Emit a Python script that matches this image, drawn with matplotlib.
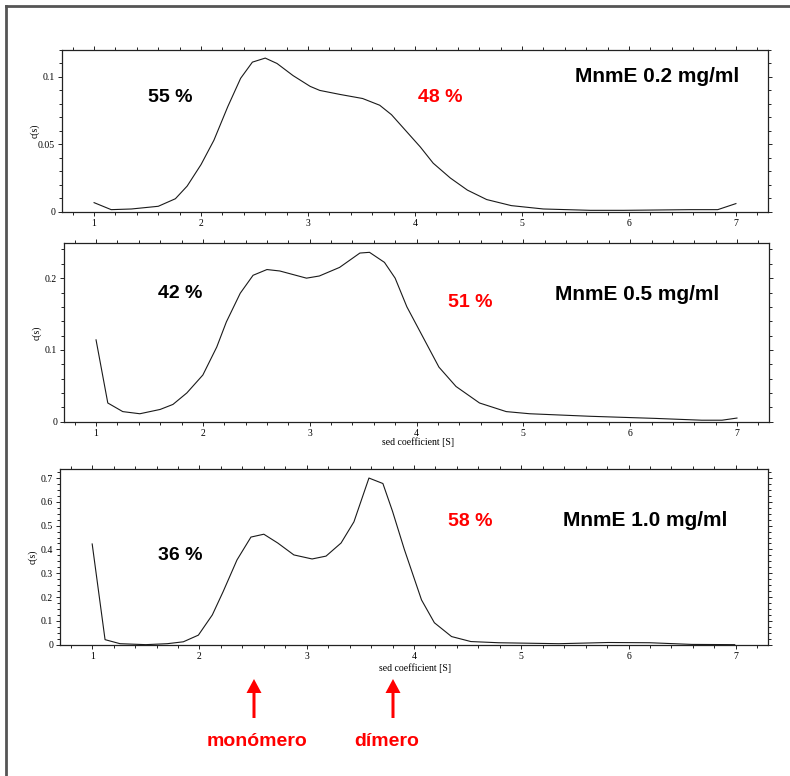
import matplotlib
matplotlib.use('Agg')
import matplotlib.pyplot as plt
from matplotlib.lines import Line2D
from matplotlib.ticker import MultipleLocator, FormatStrFormatter

# c(s) distributions
s_02 = [1.0, 1.16, 1.35, 1.6, 1.76, 1.87, 2.0, 2.12, 2.25, 2.37, 2.48, 2.6, 2.71, 2.86,
        3.02, 3.11, 3.3, 3.51, 3.67, 3.78, 3.87, 4.05, 4.17, 4.33, 4.49, 4.67, 4.9,
        5.2, 5.64, 5.95, 6.58, 6.83, 7.0]
c_02 = [0.0067, 0.0015, 0.002, 0.004, 0.0096, 0.019, 0.035, 0.053, 0.078, 0.099, 0.111,
        0.114, 0.110, 0.101, 0.093, 0.090, 0.087, 0.084, 0.079, 0.072, 0.064, 0.048,
        0.036, 0.025, 0.016, 0.009, 0.0045, 0.002, 0.001, 0.001, 0.0015, 0.0015, 0.006]

s_05 = [1.0, 1.11, 1.25, 1.41, 1.6, 1.72, 1.85, 2.0, 2.13, 2.22, 2.35, 2.47, 2.6, 2.72,
        2.97, 3.09, 3.28, 3.47, 3.56, 3.7, 3.8, 3.91, 4.06, 4.21, 4.37, 4.59, 4.84,
        5.06, 5.62, 6.24, 6.67, 6.86, 7.0]
c_05 = [0.114, 0.026, 0.014, 0.011, 0.017, 0.024, 0.040, 0.065, 0.104, 0.139, 0.179,
        0.204, 0.212, 0.210, 0.200, 0.203, 0.215, 0.235, 0.236, 0.222, 0.20, 0.16,
        0.118, 0.076, 0.049, 0.026, 0.014, 0.011, 0.0075, 0.0045, 0.002, 0.002, 0.005]

s_10 = [1.0, 1.12, 1.26, 1.5, 1.7, 1.85, 1.99, 2.12, 2.22, 2.35, 2.48, 2.6, 2.73, 2.88,
        3.05, 3.18, 3.32, 3.44, 3.58, 3.71, 3.8, 3.91, 4.07, 4.19, 4.35, 4.53, 4.79,
        5.35, 5.81, 6.2, 6.59, 6.99]
c_10 = [0.423, 0.021, 0.004, 0.0, 0.004, 0.012, 0.04, 0.125, 0.222, 0.356, 0.452,
        0.464, 0.427, 0.377, 0.36, 0.372, 0.427, 0.516, 0.70, 0.677, 0.56, 0.40,
        0.188, 0.092, 0.034, 0.013, 0.008, 0.004, 0.009, 0.008, 0.001, 0.0]

labels = ['MnmE 0.2 mg/ml', 'MnmE 0.5 mg/ml', 'MnmE 1.0 mg/ml']
pct_mono = ['55 %', '42 %', '36 %']
pct_dim = ['48 %', '51 %', '58 %']

W, H = 790, 776


def fx(x):
    return x / W


def fy(y):
    return 1 - y / H


fig = plt.figure(figsize=(7.9, 7.76), dpi=100, facecolor='white')

# axes boxes in pixels: left, top, right, bottom
boxes = [(62, 50, 768, 212), (64, 243, 769, 422), (60, 469, 768, 645)]
ylims = [0.12, 0.249, 0.738]
ymaj = [0.05, 0.1, 0.1]
ymin = [0.01, 0.02, 0.025]
series = [(s_02, c_02), (s_05, c_05), (s_10, c_10)]

serif = 'Liberation Serif'
axes = []
for i in range(3):
    l, t, r, b = boxes[i]
    ax = fig.add_axes([fx(l), fy(b), (r - l) / W, (b - t) / H])
    s, c = series[i]
    ax.plot(s, c, color='#1a1a1a', lw=0.8)
    ax.set_xlim(0.7, 7.3)
    ax.set_ylim(-0.002 * ylims[i], ylims[i])
    ax.xaxis.set_major_locator(MultipleLocator(1))
    ax.xaxis.set_minor_locator(MultipleLocator(0.2))
    ax.yaxis.set_major_locator(MultipleLocator(ymaj[i]))
    ax.yaxis.set_minor_locator(MultipleLocator(ymin[i]))
    ax.yaxis.set_major_formatter(FormatStrFormatter('%g'))
    ax.tick_params(which='both', direction='out', top=True, right=True,
                   labelsize=7, width=0.6, pad=2)
    ax.tick_params(which='major', length=3)
    ax.tick_params(which='minor', length=2)
    for lab in ax.get_xticklabels() + ax.get_yticklabels():
        lab.set_family(serif)
    for sp in ax.spines.values():
        sp.set_linewidth(0.9)
        sp.set_color('#222222')
    ax.set_ylabel('c(s)', family=serif, fontsize=7)
    ax.yaxis.set_label_coords(-0.032, 0.5)
    axes.append(ax)

# percentage and concentration labels
mono_pos = [(170, 97), (180, 293), (180, 555)]
dim_pos = [(440, 97), (470, 303), (470, 521)]
lab_pos = [(657, 77), (637, 295), (645, 521)]
for i in range(3):
    fig.text(fx(mono_pos[i][0]), fy(mono_pos[i][1]), pct_mono[i], ha='center', va='center',
             fontsize=14, fontweight='bold', family='Liberation Sans', color='black')
    fig.text(fx(dim_pos[i][0]), fy(dim_pos[i][1]), pct_dim[i], ha='center', va='center',
             fontsize=14, fontweight='bold', family='Liberation Sans', color='#ff0000')
    fig.text(fx(lab_pos[i][0]), fy(lab_pos[i][1]), labels[i], ha='center', va='center',
             fontsize=15, fontweight='bold', family='Liberation Sans', color='black')

# x axis label under the lower two panels
fig.text(fx(418), fy(442), 'sed coefficient [S]', ha='center', va='center',
         family=serif, fontsize=7)
fig.text(fx(415), fy(668), 'sed coefficient [S]', ha='center', va='center',
         family=serif, fontsize=7)

# monomer / dimer arrows
for xa, name, xt in [(254, 'monómero', 257), (393, 'dímero', 387)]:
    fig.add_artist(matplotlib.patches.FancyArrow(
        fx(xa), fy(718), 0, (718 - 679) / H, transform=fig.transFigure,
        width=3 / W, head_width=15 / W, head_length=14 / H,
        length_includes_head=True, color='#ff0000', lw=0))
    fig.text(fx(xt), fy(741), name, ha='center', va='center', fontsize=14,
             fontweight='bold', family='Liberation Sans', color='#ff0000')

# frame of the original slide (left and top edges only visible)
fig.add_artist(Line2D([fx(6), fx(6)], [0, fy(6)], transform=fig.transFigure,
                      color='#555555', lw=2))
fig.add_artist(Line2D([fx(6), 1], [fy(6), fy(6)], transform=fig.transFigure,
                      color='#555555', lw=2))

fig.savefig('out.png', dpi=100, facecolor='white')
